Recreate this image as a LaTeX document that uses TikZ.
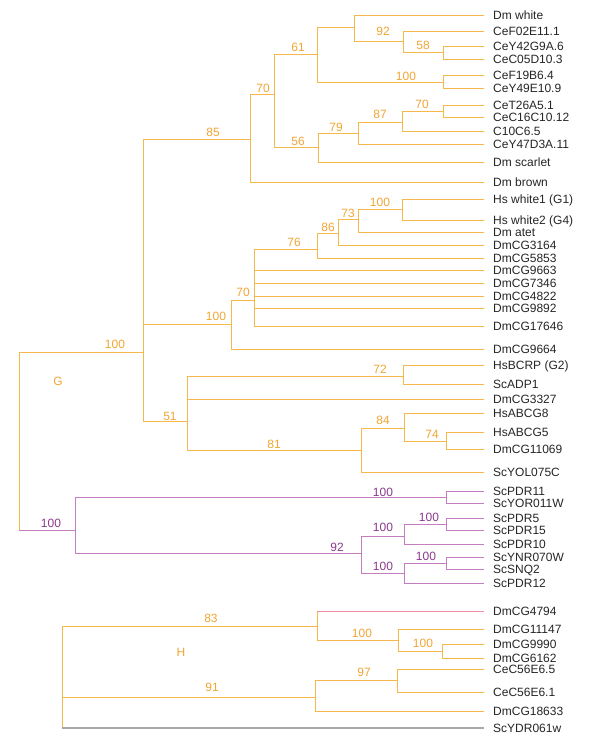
\documentclass[tikz,border=0pt]{standalone}
\usepackage{fontspec}
\setmainfont{Liberation Sans}
\definecolor{lineorange}{HTML}{F6B84A}
\definecolor{numorange}{HTML}{F2A634}
\definecolor{linepurple}{HTML}{C47EC0}
\definecolor{numpurple}{HTML}{8C3A8C}
\definecolor{linepink}{HTML}{F0909C}
\definecolor{linegrey}{HTML}{A8A8A8}
\newcommand{\treefont}{\fontsize{12}{14}\selectfont}

\begin{document}
\begin{tikzpicture}[x=1pt,y=-1pt,
    br/.style={lineorange, line width=0.9pt},
    pbr/.style={linepurple, line width=0.9pt},
    leaf/.style={anchor=west, inner xsep=9pt, inner ysep=0pt, text height=8.6pt, text depth=0pt, font=\treefont, text=black!85},
    bs/.style={inner sep=0pt, text height=8.6pt, text depth=0pt, font=\treefont, text=numorange},
    pbs/.style={bs, text=numpurple}]

    \useasboundingbox[fill=white] (0,0) rectangle (600,750);

    % leaves
    \foreach \n/\y/\t in {dmwhite/15/Dm white, cef02/31/CeF02E11.1, cey42/46/CeY42G9A.6,
        cec05/59/CeC05D10.3, cef19/75/CeF19B6.4, cey49/88/CeY49E10.9, cet26/105/CeT26A5.1,
        cec16/117/CeC16C10.12, c10c6/131/C10C6.5, cey47/144/CeY47D3A.11, dmscarlet/162/Dm scarlet,
        dmbrown/182/Dm brown, hswhite1/199/Hs white1 (G1), hswhite2/220/Hs white2 (G4),
        dmatet/232/Dm atet, cg3164/245/DmCG3164, cg5853/258/DmCG5853, cg9663/270/DmCG9663,
        cg7346/283/DmCG7346, cg4822/296/DmCG4822, cg9892/308/DmCG9892, cg17646/326/DmCG17646,
        cg9664/349/DmCG9664, hsbcrp/365/HsBCRP (G2), scadp1/384/ScADP1, cg3327/399/DmCG3327,
        hsabcg8/413/HsABCG8, hsabcg5/432/HsABCG5, cg11069/449/DmCG11069, scyol/472/ScYOL075C,
        scpdr11/491/ScPDR11, scyor/503/ScYOR011W, scpdr5/518/ScPDR5, scpdr15/530/ScPDR15,
        scpdr10/544/ScPDR10, scynr/557/ScYNR070W, scsnq2/569/ScSNQ2, scpdr12/583/ScPDR12,
        cg4794/611/DmCG4794, cg11147/629/DmCG11147, cg9990/644/DmCG9990, cg6162/658/DmCG6162,
        cec565/669/CeC56E6.5, cec561/692/CeC56E6.1, cg18633/711/DmCG18633, scydr/728/ScYDR061w}
        \node[leaf] (\n) at (484,\y) {\t};

    % inner nodes
    \coordinate (nwh) at (354,27);   \coordinate (n92) at (403,41);   \coordinate (n58) at (443,52);
    \coordinate (n61) at (317,54);   \coordinate (n19) at (443,82);   \coordinate (n70b) at (443,111);
    \coordinate (n87) at (402,122);  \coordinate (n79) at (358,133);  \coordinate (n56) at (318,147);
    \coordinate (n70a) at (274,94);  \coordinate (n85) at (250,139);  \coordinate (ngt) at (143,352);
    \coordinate (nhs) at (402,209);  \coordinate (n73) at (358,219);  \coordinate (n86) at (338,233);
    \coordinate (n76) at (317,249);  \coordinate (n70c) at (254,300); \coordinate (nhw) at (231,324);
    \coordinate (n51) at (187,421);  \coordinate (n72) at (403,376);  \coordinate (n81) at (361,450);
    \coordinate (n84) at (404,428);  \coordinate (n74) at (446,441);  \coordinate (rootg) at (19,530);
    \coordinate (npdr) at (75,530);  \coordinate (np11) at (446,497); \coordinate (np92) at (361,553);
    \coordinate (np5a) at (404,536); \coordinate (np5b) at (446,524); \coordinate (np12a) at (404,573);
    \coordinate (np12b) at (446,563);
    \coordinate (rooth) at (62,728); \coordinate (n83) at (317,626);  \coordinate (nh11) at (398,640);
    \coordinate (nh99) at (442,651); \coordinate (n91) at (315,697);  \coordinate (n97) at (397,680);

    % branches
    \foreach \p/\c in {nwh/dmwhite.west, nwh/n92, n92/cef02.west, n92/n58, n58/cey42.west,
        n58/cec05.west, n61/nwh, n61/n19, n19/cef19.west, n19/cey49.west, n70b/cet26.west,
        n70b/cec16.west, n87/n70b, n87/c10c6.west, n79/n87, n79/cey47.west, n56/n79,
        n56/dmscarlet.west, n70a/n61, n70a/n56, n85/n70a, n85/dmbrown.west, ngt/n85, ngt/nhw,
        ngt/n51, nhs/hswhite1.west, nhs/hswhite2.west, n73/nhs, n73/dmatet.west, n86/n73,
        n86/cg3164.west, n76/n86, n76/cg5853.west, n70c/n76, n70c/cg9663.west, n70c/cg7346.west,
        n70c/cg4822.west, n70c/cg9892.west, n70c/cg17646.west, nhw/n70c, nhw/cg9664.west,
        n51/n72, n51/cg3327.west, n51/n81, n72/hsbcrp.west, n72/scadp1.west, n81/n84,
        n81/scyol.west, n84/hsabcg8.west, n84/n74, n74/hsabcg5.west, n74/cg11069.west,
        rootg/ngt, rooth/n83, rooth/n91, n83/cg4794.west, n83/nh11, nh11/cg11147.west, nh11/nh99,
        nh99/cg9990.west, nh99/cg6162.west, n91/n97, n91/cg18633.west, n97/cec565.west,
        n97/cec561.west}
        \draw[br] (\p) |- (\c);
    \foreach \p/\c in {rootg/npdr, npdr/np11, npdr/np92, np11/scpdr11.west, np11/scyor.west,
        np92/np5a, np92/np12a, np5a/np5b, np5a/scpdr10.west, np5b/scpdr5.west,
        np5b/scpdr15.west, np12a/np12b, np12a/scpdr12.west, np12b/scynr.west, np12b/scsnq2.west}
        \draw[pbr] (\p) |- (\c);
    \draw[linepink, line width=0.9pt] (cg4794.west -| n83) -- (cg4794.west);
    \draw[linegrey, line width=2pt] (rooth) -- (scydr.west);

    % support values
    \node[bs] (s92) at (383,31) {92};      \node[bs] (s58) at (423,45) {58};
    \node[bs] (s61) at (298,47) {61};      \node[bs] (s19) at (406,76) {100};
    \node[bs] (s70b) at (422,104) {70};    \node[bs] (s87) at (380,114) {87};
    \node[bs] (s79) at (336,127) {79};     \node[bs] (s56) at (298,141) {56};
    \node[bs] (s70a) at (263,88) {70};     \node[bs] (s85) at (213,132) {85};
    \node[bs] (sgt) at (115,344) {100};    \node[bs] (shw) at (216,316) {100};
    \node[bs] (s70c) at (243,292) {70};    \node[bs] (s76) at (294,242) {76};
    \node[bs] (s86) at (328,227) {86};     \node[bs] (s73) at (348,213) {73};
    \node[bs] (shs) at (380,202) {100};    \node[bs] (s51) at (170,416) {51};
    \node[bs] (s72) at (380,369) {72};     \node[bs] (s81) at (274,444) {81};
    \node[bs] (s84) at (383,420) {84};     \node[bs] (s74) at (432,434) {74};
    \node[pbs] (spdr) at (51,523) {100};   \node[pbs] (sp11) at (383,492) {100};
    \node[pbs] (sp92) at (337,547) {92};   \node[pbs] (sp5a) at (383,527) {100};
    \node[pbs] (sp5b) at (429,517) {100};  \node[pbs] (sp12a) at (383,566) {100};
    \node[pbs] (sp12b) at (426,556) {100};
    \node[bs] (s83) at (211,618) {83};     \node[bs] (sh11) at (362,633) {100};
    \node[bs] (sh99) at (423,643) {100};   \node[bs] (s91) at (212,687) {91};
    \node[bs] (s97) at (364,672) {97};

    % family names
    \node[bs] (famg) at (58,381) {G};
    \node[bs] (famh) at (181,652) {H};

\end{tikzpicture}
\end{document}
